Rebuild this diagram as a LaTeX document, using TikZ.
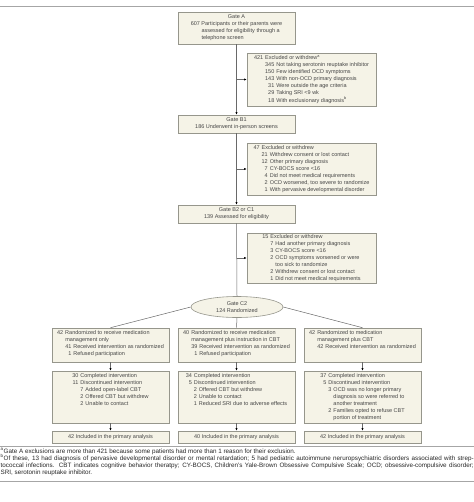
\documentclass[tikz,border=0pt]{standalone}
\usepackage{fontspec}
\setmainfont{Liberation Sans}
\usetikzlibrary{arrows.meta,shapes.geometric}
\definecolor{boxfill}{RGB}{245,243,231}
\definecolor{boxline}{RGB}{150,150,140}
\definecolor{linkline}{RGB}{105,105,105}
\definecolor{txt}{RGB}{70,70,70}
\newcommand{\flowfont}{\fontsize{5.5bp}{7bp}\selectfont}
\newcommand{\notefont}{\fontsize{6.3bp}{7.3bp}\selectfont}

\begin{document}
\begin{tikzpicture}[x=1bp,y=-1bp,
    box/.style={draw=boxline,fill=boxfill,line width=0.6bp,inner sep=0pt,text=txt,font=\flowfont,align=center},
    gate/.style={box,minimum width=117bp,minimum height=18bp},
    exbox/.style={box,minimum width=129bp},
    arm/.style={box,minimum width=117bp},
    link/.style={draw=linkline,line width=0.5bp},
    arrow/.style={link,-{Latex[length=2.6bp,width=2.2bp,color=black]}},
    rule/.style={draw=gray!70,line width=0.7bp}]
  \useasboundingbox (0,0) rectangle (474,502);

  \draw[rule] (0,6) -- (474,6);

  % gates down the middle
  \node[gate,minimum height=32bp] (gateA) at (236.5,28) {Gate A\\\begin{tabular}[t]{@{}r@{ }l@{}}
      607 & Participants or their parents were\\
          & assessed for eligibility through a\\
          & telephone screen\end{tabular}};
  \node[gate] (gateB1) at (236.5,124) {Gate B1\\186 Underwent in-person screens};
  \node[gate] (gateB2) at (236.5,214) {Gate B2 or C1\\139 Assessed for eligibility};
  \node[box,ellipse,minimum width=92bp,minimum height=21bp] (gateC2) at (237,307) {Gate C2\\124 Randomized};

  % exclusions
  \node[exbox,minimum height=53bp] (exA) at (311.5,79.5) {\begin{tabular}{@{}r@{\hspace{2bp}}r@{\hspace{2bp}}l@{}}
      421 & \multicolumn{2}{@{}l@{}}{Excluded or withdrew\textsuperscript{a}}\\
          & 345 & Not taking serotonin reuptake inhibitor\\
          & 150 & Few identified OCD symptoms\\
          & 143 & With non-OCD primary diagnosis\\
          & 31 & Were outside the age criteria\\
          & 29 & Taking SRI <9 wk\\
          & 18 & With exclusionary diagnosis\textsuperscript{b}\end{tabular}};
  \node[exbox,minimum height=52bp] (exB) at (311.5,169) {\begin{tabular}{@{}r@{\hspace{2bp}}r@{\hspace{2bp}}l@{}}
      47 & \multicolumn{2}{@{}l@{}}{Excluded or withdrew}\\
         & 21 & Withdrew consent or lost contact\\
         & 12 & Other primary diagnosis\\
         & 7 & CY-BOCS score <16\\
         & 4 & Did not meet medical requirements\\
         & 2 & OCD worsened, too severe to randomize\\
         & 1 & With pervasive developmental disorder\end{tabular}};
  \node[exbox,minimum height=50bp] (exC) at (311.5,258) {\begin{tabular}{@{}r@{\hspace{2bp}}r@{\hspace{2bp}}l@{}}
      15 & \multicolumn{2}{@{}l@{}}{Excluded or withdrew}\\
         & 7 & Had another primary diagnosis\\
         & 3 & CY-BOCS score <16\\
         & 2 & OCD symptoms worsened or were\\
         &   & too sick to randomize\\
         & 2 & Withdrew consent or lost contact\\
         & 1 & Did not meet medical requirements\end{tabular}};

  % the three arms
  \node[arm,minimum height=34bp] (armL1) at (110.5,345) {\parbox[c][31bp][t]{115bp}{\centering\begin{tabular}{@{}r@{\hspace{2bp}}r@{\hspace{2bp}}l@{}}
      42 & \multicolumn{2}{@{}l@{}}{Randomized to receive medication}\\
         & \multicolumn{2}{@{}l@{}}{management only}\\
         & 41 & Received intervention as randomized\\
         & 1 & Refused participation\end{tabular}}};
  \node[arm,minimum height=34bp] (armM1) at (236.5,345) {\parbox[c][31bp][t]{115bp}{\centering\begin{tabular}{@{}r@{\hspace{2bp}}r@{\hspace{2bp}}l@{}}
      40 & \multicolumn{2}{@{}l@{}}{Randomized to receive medication}\\
         & \multicolumn{2}{@{}l@{}}{management plus instruction in CBT}\\
         & 39 & Received intervention as randomized\\
         & 1 & Refused participation\end{tabular}}};
  \node[arm,minimum height=34bp] (armR1) at (362.5,345) {\parbox[c][31bp][t]{115bp}{\centering\begin{tabular}{@{}r@{\hspace{2bp}}r@{\hspace{2bp}}l@{}}
      42 & \multicolumn{2}{@{}l@{}}{Randomized to medication}\\
         & \multicolumn{2}{@{}l@{}}{management plus CBT}\\
         & 42 & Received intervention as randomized\end{tabular}}};

  \node[arm,minimum height=52bp] (armL2) at (110.5,397) {\parbox[c][49bp][t]{115bp}{\centering\begin{tabular}{@{}r@{\hspace{2bp}}r@{\hspace{2bp}}l@{}}
      30 & \multicolumn{2}{@{}l@{}}{Completed intervention}\\
      11 & \multicolumn{2}{@{}l@{}}{Discontinued intervention}\\
         & 7 & Added open-label CBT\\
         & 2 & Offered CBT but withdrew\\
         & 2 & Unable to contact\end{tabular}}};
  \node[arm,minimum height=52bp] (armM2) at (236.5,397) {\parbox[c][49bp][t]{115bp}{\centering\begin{tabular}{@{}r@{\hspace{2bp}}r@{\hspace{2bp}}l@{}}
      34 & \multicolumn{2}{@{}l@{}}{Completed intervention}\\
      5 & \multicolumn{2}{@{}l@{}}{Discontinued intervention}\\
        & 2 & Offered CBT but withdrew\\
        & 2 & Unable to contact\\
        & 1 & Reduced SRI due to adverse effects\end{tabular}}};
  \node[arm,minimum height=52bp] (armR2) at (362.5,397) {\parbox[c][49bp][t]{115bp}{\centering\begin{tabular}{@{}r@{\hspace{2bp}}r@{\hspace{2bp}}l@{}}
      37 & \multicolumn{2}{@{}l@{}}{Completed intervention}\\
      5 & \multicolumn{2}{@{}l@{}}{Discontinued intervention}\\
        & 3 & OCD was no longer primary\\
        &   & diagnosis so were referred to\\
        &   & another treatment\\
        & 2 & Families opted to refuse CBT\\
        &   & portion of treatment\end{tabular}}};

  \node[arm,minimum height=12bp] (armL3) at (110.5,437) {42 Included in the primary analysis};
  \node[arm,minimum height=12bp] (armM3) at (236.5,437) {40 Included in the primary analysis};
  \node[arm,minimum height=12bp] (armR3) at (362.5,437) {42 Included in the primary analysis};

  % connectors
  \draw[arrow] (gateA.south) -- (gateB1.north);
  \draw[arrow] (gateA.south |- exA.west) -- (exA.west);
  \draw[arrow] (gateB1.south) -- (gateB2.north);
  \draw[arrow] (gateB1.south |- exB.west) -- (exB.west);
  \draw[link] (gateB2.south) -- (gateC2.north);
  \draw[arrow] (gateB2.south |- exC.west) -- (exC.west);

  \draw[link] (gateC2.west) -- (armL1.north);
  \draw[link] (gateC2.south) -- (armM1.north);
  \draw[link] (gateC2.east) -- (armR1.north);

  \draw[arrow] (armL1.south) -- (armL2.north);
  \draw[arrow] (armM1.south) -- (armM2.north);
  \draw[arrow] (armR1.south) -- (armR2.north);
  \draw[arrow] (armL2.south) -- (armL3.north);
  \draw[arrow] (armM2.south) -- (armM3.north);
  \draw[arrow] (armR2.south) -- (armR3.north);

  % footnotes
  \draw[rule] (0,446) -- (474,446);
  \node[anchor=north west,inner sep=0pt,text width=473bp,align=justify,font=\notefont,text=black!85] (notes) at (0.5,448)
    {\textsuperscript{a}Gate A exclusions are more than 421 because some patients had more than 1 reason for their exclusion.\\
     \textsuperscript{b}Of these, 13 had diagnosis of pervasive developmental disorder or mental retardation; 5 had pediatric autoimmune neruropsychiatric disorders associated with strep-\linebreak
     tococcal infections. CBT indicates cognitive behavior theratpy; CY-BOCS, Children's Yale-Brown Obsessive Compulsive Scale; OCD; obsessive-compulsive disorder;\linebreak
     SRI, serotonin reuptake inhibitor.};
  \draw[rule] (0,481) -- (474,481);
\end{tikzpicture}
\end{document}
